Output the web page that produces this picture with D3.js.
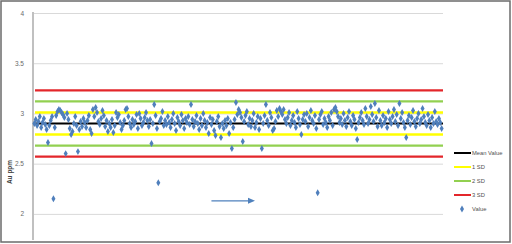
<!DOCTYPE html>
<html>
<head>
<meta charset="utf-8">
<script src="https://cdn.jsdelivr.net/npm/d3@7"></script>
<style>
  html, body { margin: 0; padding: 0; background: #fff; }
  svg { display: block; font-family: "Liberation Sans", Arial, sans-serif; }
</style>
</head>
<body>
<div class="chart"></div>
<script>
// Data
var yTicks = [2, 2.5, 3, 3.5, 4];
var limitNames = ['3 SD', '2 SD', '1 SD', 'Mean Value', '1 SD', '2 SD', '3 SD'];
var limitValues = [3.23, 3.12, 3.01, 2.90, 2.79, 2.68, 2.57];
var legendNames = ['Mean Value', '1 SD', '2 SD', '3 SD', 'Value'];
var values = [
    2.90, 2.94, 2.88, 2.92, 2.97, 2.86, 2.91, 2.95, 2.89, 2.84, 2.71, 2.88, 2.93, 2.97, 2.15, 2.86, 2.98, 3.02, 3.04, 3.03,
    3.01, 2.99, 2.96, 2.60, 3.00, 2.94, 2.85, 2.79, 2.82, 2.90, 2.97, 2.88, 2.62, 2.84, 2.92, 2.87, 2.95, 2.91, 2.86, 2.93,
    2.98, 2.84, 2.80, 3.04, 2.97, 3.06, 3.01, 2.92, 2.89, 2.95, 3.03, 2.98, 2.87, 2.93, 2.82, 2.90, 2.86, 2.94, 2.81, 2.88,
    3.01, 2.96, 2.99, 2.91, 2.84, 2.88, 2.93, 3.04, 3.05, 2.97, 2.90, 2.86, 2.94, 2.89, 2.92, 2.99, 2.85, 3.00, 2.95, 2.88,
    2.91, 2.96, 3.01, 2.93, 2.87, 2.94, 2.70, 2.90, 3.09, 2.98, 2.85, 2.31, 2.92, 2.95, 3.02, 2.88, 2.93, 2.89, 2.97, 2.91,
    2.86, 2.94, 3.00, 2.90, 2.83, 2.96, 2.92, 2.88, 2.99, 2.93, 2.85, 2.95, 2.91, 2.97, 2.89, 3.09, 2.94, 2.87, 2.92, 2.98,
    2.90, 2.84, 2.95, 2.88, 3.00, 2.93, 2.86, 2.91, 2.80, 2.96, 2.89, 2.94, 2.83, 2.78, 2.92, 2.97, 2.87, 2.76, 2.90, 2.85,
    2.93, 2.88, 2.95, 2.80, 2.91, 2.65, 2.86, 2.94, 3.11, 2.99, 3.04, 3.01, 2.96, 2.72, 2.92, 2.98, 3.02, 2.89, 2.95, 2.87,
    2.93, 3.00, 2.86, 2.91, 2.97, 2.84, 2.95, 2.65, 2.90, 2.98, 3.09, 2.93, 2.88, 3.01, 2.96, 2.83, 2.85, 2.92, 3.03, 2.97,
    3.05, 3.02, 2.99, 3.04, 2.94, 2.90, 2.96, 3.01, 2.88, 2.93, 2.98, 2.91, 2.86, 3.02, 2.95, 2.89, 2.79, 2.94, 2.99, 2.92,
    3.00, 2.87, 2.96, 3.03, 2.93, 2.90, 2.98, 2.85, 2.21, 2.94, 2.99, 3.02, 2.89, 2.95, 2.91, 2.86, 2.97, 2.93, 3.01, 2.88,
    3.04, 3.06, 3.02, 2.97, 2.91, 2.95, 2.89, 3.00, 2.93, 2.87, 2.96, 3.02, 2.92, 2.88, 2.98, 2.94, 2.85, 2.74, 2.91, 2.96,
    3.01, 2.93, 2.89, 3.05, 2.97, 2.90, 2.94, 3.07, 2.99, 2.92, 3.10, 2.96, 2.87, 3.03, 2.93, 2.88, 2.98, 2.91, 2.95, 2.86,
    3.02, 2.94, 2.90, 2.97, 3.04, 2.92, 2.99, 2.88, 3.10, 2.95, 3.01, 2.91, 2.86, 2.76, 2.93, 2.98, 2.89, 2.96, 3.03, 2.92,
    2.87, 2.95, 3.00, 2.90, 2.94, 3.05, 2.97, 2.91, 2.88, 2.99, 2.93, 2.86, 2.96, 2.90, 3.02, 2.92, 2.89, 2.95, 2.91, 2.85
];
// Trend arrow drawn on the chart: [sample index, value]
var arrowFrom = [131, 2.13];
var arrowTo = [163, 2.13];

var width = 512;
var height = 244;
var plotLeft = 33;
var plotRight = 443;
var plotTop = 13;
var plotBottom = 240;

var limitColors = { 'Mean Value': '#000000', '1 SD': '#ffff00', '2 SD': '#92d050', '3 SD': '#e3262b' };
var pointColor = '#4f7fbc';

var svg = d3.select('.chart')
    .append('svg')
        .attr('width', width)
        .attr('height', height);

var x = d3.scaleLinear()
    .domain([0, values.length + 1])
    .range([plotLeft, plotRight]);

var y = d3.scaleLinear()
    .domain([1.74, 4])
    .range([plotBottom, plotTop]);

// Outer frame
svg.append('rect')
    .attr('x', 1)
    .attr('y', 1)
    .attr('width', width - 3)
    .attr('height', height - 3)
    .attr('fill', 'none')
    .attr('stroke', '#6b6b6b')
    .attr('stroke-width', 1.5);

// Gridlines
svg.append('g')
    .attr('transform', 'translate(' + plotLeft + ',0)')
    .call(d3.axisLeft(y).tickValues(yTicks).tickSize(-(plotRight - plotLeft)).tickFormat(''))
    .call(function (g) {
        g.select('.domain').remove();
        g.selectAll('line').attr('stroke', '#d9d9d9').attr('stroke-width', 1);
    });

// Tick labels
svg.append('g')
    .attr('transform', 'translate(' + (plotLeft - 6) + ',0)')
    .call(d3.axisLeft(y).tickValues(yTicks).tickSize(0).tickFormat(d3.format('')))
    .call(function (g) {
        g.select('.domain').remove();
        g.selectAll('text')
            .attr('fill', '#6a6a6a')
            .attr('font-size', 6.5)
            .attr('font-family', '"Liberation Sans", Arial, sans-serif');
    });

// Vertical axis line
svg.append('line')
    .attr('x1', plotLeft)
    .attr('x2', plotLeft)
    .attr('y1', plotTop - 1)
    .attr('y2', plotBottom)
    .attr('stroke', '#c0c0c0')
    .attr('stroke-width', 2);

// Axis title
svg.append('text')
    .text('Au ppm')
    .attr('transform', 'translate(12,' + 172 + ') rotate(-90)')
    .attr('text-anchor', 'middle')
    .attr('font-size', 6.5)
    .attr('font-weight', 'bold')
    .attr('fill', '#404040');

// Control limit lines
svg.selectAll('line.limit')
    .data(limitValues)
    .enter()
    .append('line')
        .attr('class', 'limit')
        .attr('x1', x(0) + 2)
        .attr('x2', plotRight)
        .attr('y1', function (d) { return y(d); })
        .attr('y2', function (d) { return y(d); })
        .attr('stroke', function (d, i) { return limitColors[limitNames[i]]; })
        .attr('stroke-width', function (d, i) { return limitNames[i] === 'Mean Value' ? 1.8 : 2.4; });

// Points
var diamond = d3.symbol().type(d3.symbolDiamond).size(14);
svg.selectAll('path.pt')
    .data(values)
    .enter()
    .append('path')
        .attr('class', 'pt')
        .attr('d', diamond)
        .attr('transform', function (d, i) { return 'translate(' + x(i + 1) + ',' + y(d) + ')'; })
        .attr('fill', pointColor);

// Arrow
var ax1 = x(arrowFrom[0]), ay1 = y(arrowFrom[1]);
var ax2 = x(arrowTo[0]), ay2 = y(arrowTo[1]);
svg.append('line')
    .attr('x1', ax1)
    .attr('y1', ay1)
    .attr('x2', ax2 - 5)
    .attr('y2', ay2)
    .attr('stroke', '#4f81bd')
    .attr('stroke-width', 1.2);
svg.append('path')
    .attr('d', 'M' + ax2 + ',' + ay2 + 'L' + (ax2 - 7) + ',' + (ay2 - 3) + 'L' + (ax2 - 7) + ',' + (ay2 + 3) + 'Z')
    .attr('fill', '#4f81bd');

// Legend
var legend = svg.selectAll('g.legend')
    .data(legendNames)
    .enter()
    .append('g')
        .attr('class', 'legend')
        .attr('transform', function (d, i) { return 'translate(454,' + (153 + i * 14) + ')'; });

legend.filter(function (d) { return d !== 'Value'; })
    .append('line')
        .attr('x1', 0)
        .attr('x2', 17)
        .attr('stroke', function (d) { return limitColors[d]; })
        .attr('stroke-width', 2);

legend.filter(function (d) { return d === 'Value'; })
    .append('path')
        .attr('d', diamond)
        .attr('transform', 'translate(8,0)')
        .attr('fill', pointColor);

legend.append('text')
    .text(function (d) { return d; })
    .attr('x', 18)
    .attr('y', 2)
    .attr('font-size', 5.8)
    .attr('fill', '#505050');
</script>
</body>
</html>
